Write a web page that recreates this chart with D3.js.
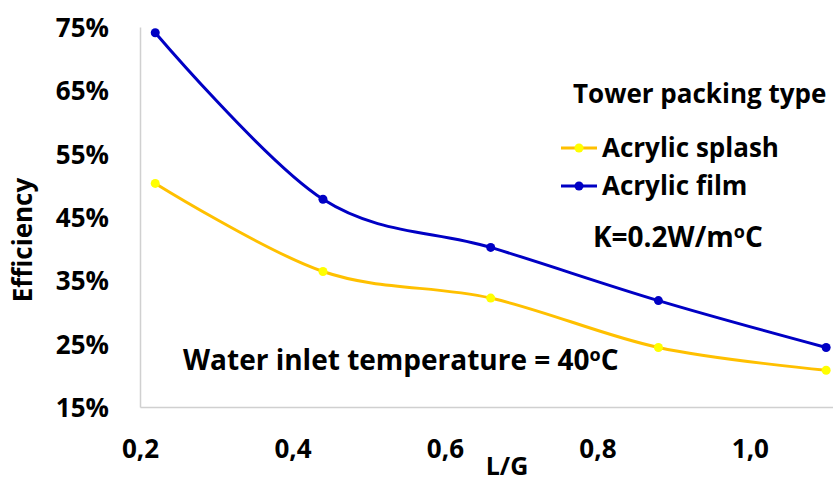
<!DOCTYPE html>
<html>
<head>
<meta charset="utf-8">
<script src="https://cdn.jsdelivr.net/npm/d3@7"></script>
<style>
  body { margin: 0; background: #fff; }
  text { font-family: "Open Sans", sans-serif; font-weight: bold; fill: #000; }
</style>
</head>
<body>
<div id="chart"></div>
<script>
// data
var lgValues = [0.22, 0.44, 0.66, 0.88, 1.10];
var splashEff = [50.3, 36.4, 32.2, 24.4, 20.8];
var filmEff = [74.1, 47.8, 40.2, 31.8, 24.4];
var yTicks = [15, 25, 35, 45, 55, 65, 75];
var xTicks = [0.2, 0.4, 0.6, 0.8, 1.0];
var seriesNames = ["Acrylic splash", "Acrylic film"];

var svgWidth = 833;
var svgHeight = 483;

var svg = d3.select("#chart")
  .append("svg")
  .attr("width", svgWidth)
  .attr("height", svgHeight);

var xScale = d3.scaleLinear()
  .domain([0.2, 1.109])
  .range([140, 833]);

var yScale = d3.scaleLinear()
  .domain([15, 75])
  .range([407, 27]);

// axes
var xAxis = d3.axisBottom(xScale)
  .tickValues(xTicks)
  .tickSize(0)
  .tickFormat(d => d3.format(".1f")(d).replace(".", ","));

var yAxis = d3.axisLeft(yScale)
  .tickValues(yTicks)
  .tickSize(0)
  .tickFormat(d => d + "%");

var gx = svg.append("g")
  .attr("transform", "translate(0, 407)")
  .call(xAxis);
gx.select(".domain").attr("stroke", "#d0d0d0").attr("stroke-width", 1.5);
gx.selectAll("text")
  .attr("y", 51)
  .attr("dy", 0)
  .attr("font-size", "26px")
  .attr("font-family", "Open Sans")
  .attr("font-weight", "bold")
  .attr("fill", "#000");

var gy = svg.append("g")
  .attr("transform", "translate(140, 0)")
  .call(yAxis);
gy.select(".domain").attr("stroke", "#d0d0d0").attr("stroke-width", 1.5);
gy.selectAll("text")
  .attr("x", -31)
  .attr("dy", "0.36em")
  .attr("font-size", "26px")
  .attr("font-family", "Open Sans")
  .attr("font-weight", "bold")
  .attr("fill", "#000");

// axis titles
svg.append("text")
  .attr("transform", "translate(32, 240) rotate(-90)")
  .attr("text-anchor", "middle")
  .attr("font-size", "26px")
  .text("Efficiency");

svg.append("text")
  .attr("x", 507)
  .attr("y", 475)
  .attr("text-anchor", "middle")
  .attr("font-size", "25px")
  .text("L/G");

// lines
var series = [
  { name: seriesNames[0], values: splashEff, line: "#ffc000", marker: "#ffff00" },
  { name: seriesNames[1], values: filmEff, line: "#0000c4", marker: "#0000c4" }
];

var line = d3.line()
  .x((d, i) => xScale(lgValues[i]))
  .y(d => yScale(d))
  .curve(d3.curveCardinal.tension(0));

series.forEach(function (s) {
  svg.append("path")
    .datum(s.values)
    .attr("d", line)
    .attr("fill", "none")
    .attr("stroke", s.line)
    .attr("stroke-width", 3);

  svg.selectAll(null)
    .data(s.values)
    .enter()
    .append("circle")
    .attr("cx", (d, i) => xScale(lgValues[i]))
    .attr("cy", d => yScale(d))
    .attr("r", 4.5)
    .attr("fill", s.marker);
});

// legend
svg.append("text")
  .attr("x", 573)
  .attr("y", 103)
  .attr("font-size", "26px")
  .text("Tower packing type");

var legendY = [148, 186];
series.forEach(function (s, i) {
  svg.append("line")
    .attr("x1", 561).attr("x2", 597)
    .attr("y1", legendY[i]).attr("y2", legendY[i])
    .attr("stroke", s.line)
    .attr("stroke-width", 3);
  svg.append("circle")
    .attr("cx", 579)
    .attr("cy", legendY[i])
    .attr("r", 4.5)
    .attr("fill", s.marker);
  svg.append("text")
    .attr("x", 602)
    .attr("y", legendY[i] + 9)
    .attr("font-size", "26px")
    .text(s.name);
});

// notes
var kNote = svg.append("text")
  .attr("x", 593)
  .attr("y", 247)
  .attr("font-size", "28px");
kNote.append("tspan").text("K=0.2W/m");
kNote.append("tspan").attr("font-size", "18px").attr("dy", -9).text("o");
kNote.append("tspan").attr("dy", 9).text("C");

var tNote = svg.append("text")
  .attr("x", 183)
  .attr("y", 370)
  .attr("font-size", "28px");
tNote.append("tspan").text("Water inlet temperature = 40");
tNote.append("tspan").attr("font-size", "18px").attr("dy", -9).text("o");
tNote.append("tspan").attr("dy", 9).text("C");
</script>
</body>
</html>
